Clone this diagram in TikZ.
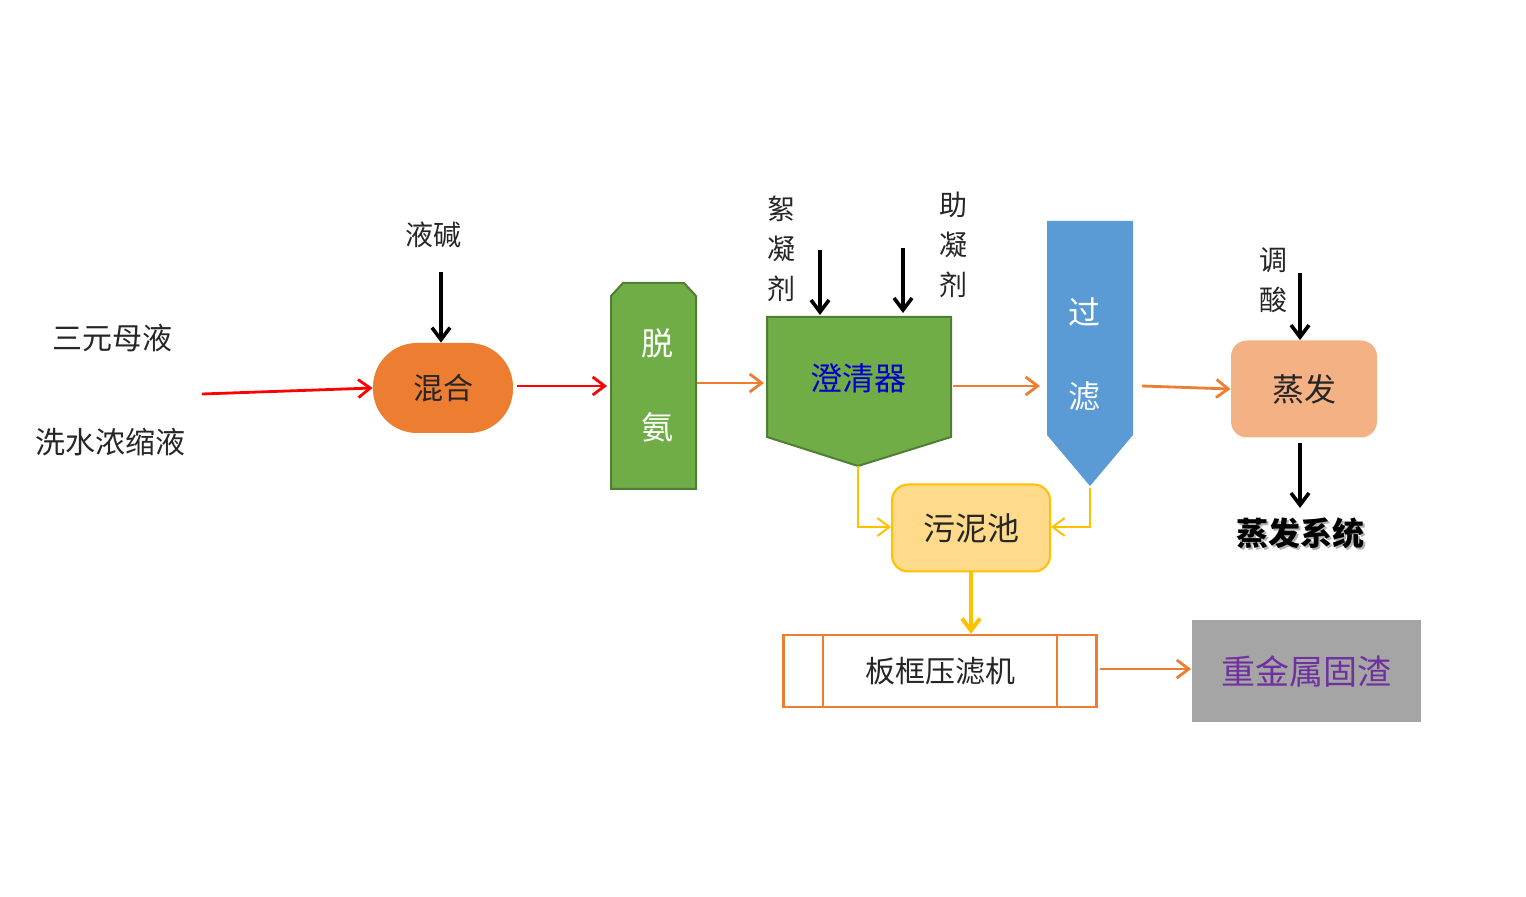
\documentclass[tikz,border=0pt]{standalone}
\usepackage{fontspec}
\setmainfont{Noto Sans CJK SC}
\usetikzlibrary{arrows.meta}
\definecolor{org}{HTML}{ED7D31}
\definecolor{grn}{HTML}{70AD47}
\definecolor{grnd}{HTML}{507E32}
\definecolor{blu}{HTML}{5B9BD5}
\definecolor{lor}{HTML}{F4B183}
\definecolor{yel}{HTML}{FFC000}
\definecolor{lyel}{HTML}{FFDA8A}
\definecolor{gry}{HTML}{A5A5A5}
\definecolor{pur}{HTML}{7030A0}
\begin{document}
\begin{tikzpicture}[x=0.5pt,y=-0.5pt,
  ar/.style={-{Straight Barb[length=6pt,width=9pt]},line width=1.4pt},
  blk/.style={ar,black,line width=1.8pt},
  lbl/.style={font=\fontsize{15}{18}\selectfont,text=black!85},
  vl/.style={lbl,align=center,font=\fontsize{14}{20}\selectfont}]
\useasboundingbox (0,0) rectangle (1526,897);
\node[lbl] (t1) at (112,338) {三元母液};
\node[lbl] (t2) at (110,442) {洗水浓缩液};
\coordinate (rs) at (202,394);
\node[fill=org,rounded corners=22pt,minimum width=70pt,minimum height=45pt,lbl] (mix) at (443,388) {混合};
\draw[ar,red] (rs) -- (mix.west);
\node[lbl,font=\fontsize{14}{16}\selectfont] (jj) at (433,235) {液碱};
\draw[blk] (441,272) -- (mix.north -| 441,0);
% tuo an
\draw[fill=grn,draw=grnd,line width=1pt] (611,489) -- (611,296) -- (623,283) -- (684,283) -- (696,296) -- (696,489) -- cycle;
\node[text=white,font=\fontsize{16}{18}\selectfont] (tuo) at (657,343) {脱};
\node[text=white,font=\fontsize{16}{18}\selectfont] (an) at (657,427) {氨};
\coordinate (tuoL) at (607,386);
\draw[ar,red] (mix.east) ++(4,-2) -- (tuoL);
% clarifier
\draw[fill=grn,draw=grnd,line width=1pt] (767,317) -- (951,317) -- (951,437) -- (858,466) -- (767,437) -- cycle;
\node[text=blue!80!black,font=\fontsize{16}{18}\selectfont] (cq) at (858,378) {澄清器};
\coordinate (tuoR) at (697,383); \coordinate (cqL) at (764,383);
\draw[ar,org] (tuoR) -- (cqL);
\node[vl] (xn) at (781,249) {絮\\凝\\剂};
\node[vl] (zn) at (953,245) {助\\凝\\剂};
\draw[blk] (820,250) -- (820,315);
\draw[blk] (903,248) -- (903,313);
% filter
\draw[fill=blu,draw=none] (1047,221) -- (1133,221) -- (1133,435) -- (1090,486) -- (1047,435) -- cycle;
\node[text=white,font=\fontsize{16}{18}\selectfont] (guo) at (1084,312) {过};
\node[text=white,font=\fontsize{16}{18}\selectfont] (lv) at (1084,396) {滤};
\draw[ar,org] (953,386) -- (1040,386);
% evaporate
\node[fill=lor,rounded corners=8pt,minimum width=73pt,minimum height=48.5pt,lbl,font=\fontsize{16}{18}\selectfont] (zf) at (1304,389) {蒸发};
\draw[ar,org] (1142,386) -- (zf.west);
\node[vl] (tsu) at (1273,280) {调\\酸};
\draw[blk] (1300,273) -- (zf.north -| 1300,0);
\node[font=\fontsize{16}{18}\selectfont\bfseries,text=gray!60] at (1302,535) {蒸发系统};
\node[font=\fontsize{16}{18}\selectfont\bfseries] (zfxt) at (1300,533) {蒸发系统};
\draw[blk] (zf.south -| 1300,0) ++(0,5) -- (1300,508);
% sludge
\node[fill=lyel,draw=yel,line width=1pt,rounded corners=8pt,minimum width=79pt,minimum height=43.5pt,lbl,font=\fontsize{16}{18}\selectfont] (wn) at (971,528) {\raisebox{-6pt}{污泥池}};
\draw[ar,yel,line width=1pt] (858,466) -- (858,527) -- (wn.west |- 0,527);
\draw[ar,yel,line width=1pt] (1090,488) -- (1090,527) -- (wn.east |- 0,527);
% press
\node[draw=org,line width=1.2pt,minimum width=156.5pt,minimum height=36pt,lbl] (bk) at (940,671) {板框压滤机};
\draw[org,line width=1.2pt] (823,635) -- (823,707) (1057,635) -- (1057,707);
\draw[ar,yel,line width=2pt] (wn.south) -- (bk.north -| wn.south);
% residue
\node[fill=gry,minimum width=114.5pt,minimum height=50.5pt,text=pur,font=\fontsize{17}{19}\selectfont] (zj) at (1306,671) {重金属固渣};
\draw[ar,org] (bk.east) ++(2,-2) -- (zj.west |- 0,669);
\end{tikzpicture}
\end{document}
